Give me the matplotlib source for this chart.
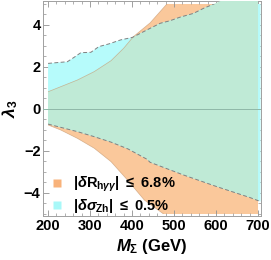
import numpy as np
import matplotlib
matplotlib.use("Agg")
import matplotlib.pyplot as plt
from matplotlib.patches import Rectangle
from matplotlib.lines import Line2D
from matplotlib.ticker import MultipleLocator

plt.rcParams['font.family'] = ['Liberation Sans', 'DejaVu Sans']
plt.rcParams['mathtext.fontset'] = 'custom'
plt.rcParams['mathtext.rm'] = 'Liberation Sans:bold'
plt.rcParams['mathtext.it'] = 'Liberation Sans:bold:italic'
plt.rcParams['mathtext.bf'] = 'Liberation Sans:bold'

# |dR_hgg| <= 6.8% region (boundaries)
mR_up = [200, 230, 270, 310, 350, 380, 403, 443, 483, 520, 600, 700]
r_up = [0.82, 1.06, 1.38, 1.78, 2.30, 2.89, 3.44, 4.10, 5.00, 5.80, 7.5, 9.5]
mR_lo = [200, 230, 270, 310, 350, 389, 429, 475, 520, 600, 700]
r_lo = [-0.76, -1.00, -1.40, -1.87, -2.51, -3.38, -4.33, -5.00, -5.8, -7.2, -9.0]

# |d sigma_Zh| <= 0.5% region
mZ_up = [200, 246, 262, 278, 302, 321, 345, 373, 401, 443, 467, 490, 514, 546,
         570, 595, 650, 706]
z_up = [2.17, 2.25, 2.46, 2.68, 2.70, 2.97, 3.10, 3.29, 3.41, 3.84, 4.08, 4.20,
        4.37, 4.55, 4.79, 5.00, 5.5, 6.0]
mZ_lo = [200, 270, 310, 350, 390, 436, 443, 522, 602, 681, 706]
z_lo = [-0.72, -1.08, -1.32, -1.58, -1.90, -2.40, -2.54, -3.14, -3.70, -4.22, -4.41]

c_orange = '#fac89b'
c_cyan = '#b6fbfb'
c_green = '#bfead6'

fig = plt.figure(figsize=(2.71, 2.60), dpi=100)
ax = fig.add_axes([0.160, 0.169, 0.802, 0.827])

clipR = Rectangle((200, -5), 500, 10, transform=ax.transData, fill=False, visible=False)
clipZ = Rectangle((200, -5), 506, 10, transform=ax.transData, fill=False, visible=False)
ax.add_patch(clipR)
ax.add_patch(clipZ)

# orange region as one polygon
xr = mR_lo + mR_up[::-1]
yr = r_lo + r_up[::-1]
polyR = ax.fill(xr, yr, color=c_orange, lw=0, zorder=1)[0]
polyR.set_clip_path(clipR)

xz = mZ_lo + mZ_up[::-1]
yz = z_lo + z_up[::-1]
polyZ = ax.fill(xz, yz, color=c_cyan, lw=0, zorder=2)[0]
polyZ.set_clip_path(clipZ)

# overlap
polyG = ax.fill(xz, yz, color=c_green, lw=0, zorder=3)[0]
polyG.set_clip_path(polyR)

# boundaries
for xs, ys in [(mR_up, r_up), (mR_lo, r_lo)]:
    ln, = ax.plot(xs, ys, color='#c89a70', lw=0.5, alpha=0.7, zorder=4)
    ln.set_clip_path(clipR)
for xs, ys in [(mZ_up, z_up), (mZ_lo, z_lo)]:
    ln, = ax.plot(xs, ys, color='#808080', lw=0.7, ls=(0, (4, 2.5)), zorder=5)
    ln.set_clip_path(clipZ)

ax.axhline(0, color='#8fb8a8', lw=0.7, zorder=6)

ax.set_xlim(188.8, 706.4)
ax.set_ylim(-5.10, 5.14)
ax.xaxis.set_major_locator(MultipleLocator(100))
ax.xaxis.set_minor_locator(MultipleLocator(20))
ax.yaxis.set_minor_locator(MultipleLocator(0.5))
ax.set_yticks([-4, -2, 0, 2, 4])
ax.set_yticklabels(['\u22124', '\u22122', '0', '2', '4'])
ax.tick_params(which='both', direction='in', top=True, right=True, color='#909090',
               labelsize=10.5, pad=2)
ax.tick_params(which='major', length=4, width=0.6)
ax.tick_params(which='minor', length=2, width=0.5)
for lab in ax.get_xticklabels() + ax.get_yticklabels():
    lab.set_fontweight('bold')
for sp in ax.spines.values():
    sp.set_color('#a0a0a0')
    sp.set_linewidth(0.7)

ax.set_xlabel(r'$M_{\Sigma}$ (GeV)', fontsize=12, fontweight='bold', labelpad=3)
ax.set_ylabel(r'$\lambda_3$', fontsize=12.5, fontweight='bold', labelpad=3)

handles = [
    Line2D([], [], ls='none', marker='s', ms=6, mfc='#f8b27a', mec='none'),
    Line2D([], [], ls='none', marker='s', ms=6, mfc='#a8f8f8', mec='none'),
]
labels = [r'$|\delta\mathrm{R}_{\mathrm{h}\gamma\gamma}|\ \leq\ \mathrm{6.8\%}$',
          r'$|\delta\sigma_{\mathrm{Zh}}|\ \leq\ \mathrm{0.5\%}$']
ax.legend(handles, labels, loc='lower left', frameon=False, fontsize=10.5,
          handlelength=0.8, handletextpad=0.7, labelspacing=0.2,
          borderaxespad=0.0, borderpad=0.0, bbox_to_anchor=(0.035, 0.005))

fig.savefig('out.png', dpi=100)
